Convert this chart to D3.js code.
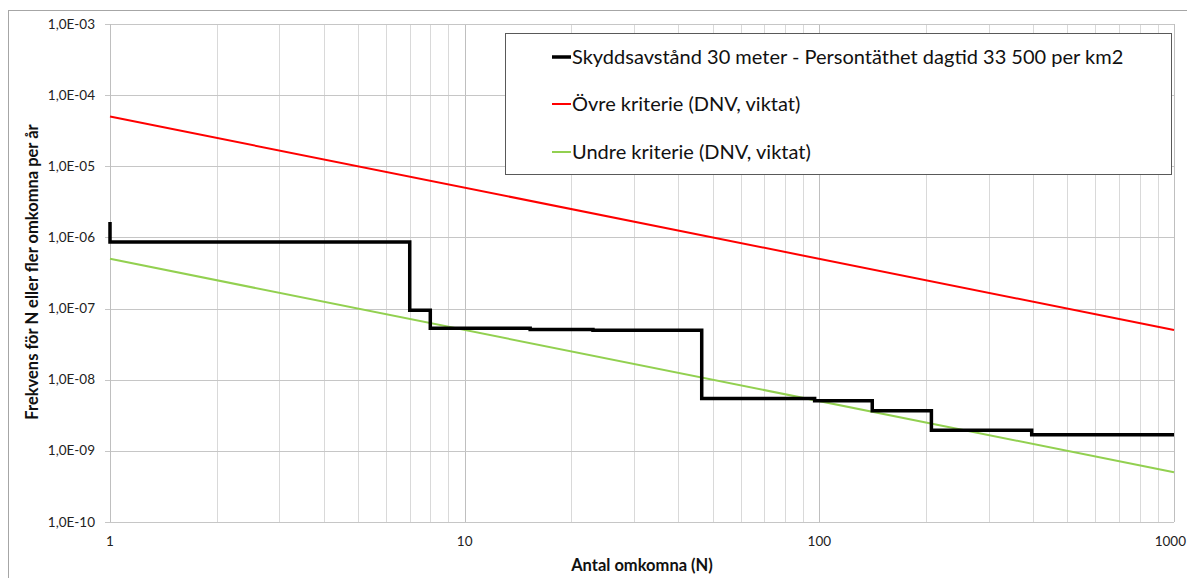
<!DOCTYPE html>
<html>
<head>
<meta charset="utf-8">
<script src="https://cdn.jsdelivr.net/npm/d3@7"></script>
<style>
  body { margin: 0; background: #fff; }
  svg { display: block; font-family: Lato, "Open Sans", sans-serif; }
</style>
</head>
<body>
<svg id="chart" width="1187" height="578"></svg>
<script>
// F/N-kurva: frekvens för N eller fler omkomna per år
const stepN = [1, 1, 7, 8, 15.3, 23, 46.6, 97, 141, 207, 397, 1000];
const stepF = [1.65e-6, 8.6e-7, 9.5e-8, 5.3e-8, 5.1e-8, 4.95e-8, 5.45e-9, 5.05e-9, 3.65e-9, 1.95e-9, 1.68e-9, 1.68e-9];

const criteriaN = [1, 1000];
const upperF = [5e-5, 5e-8];
const lowerF = [5e-7, 5e-10];

const yTickValues = [1e-3, 1e-4, 1e-5, 1e-6, 1e-7, 1e-8, 1e-9, 1e-10];
const yTickLabels = ["1,0E-03", "1,0E-04", "1,0E-05", "1,0E-06", "1,0E-07", "1,0E-08", "1,0E-09", "1,0E-10"];
const xTickValues = [1, 10, 100, 1000];
const xTickLabels = ["1", "10", "100", "1000"];

const legendLabels = [
  "Skyddsavstånd 30 meter - Persontäthet dagtid 33 500 per km2",
  "Övre kriterie (DNV, viktat)",
  "Undre kriterie (DNV, viktat)"
];
const seriesColors = ["#000000", "#ff0000", "#92d050"];

const svg = d3.select("#chart");
const W = 1187;
const plot = { left: 110, right: 1174, top: 24, bottom: 522 };

const x = d3.scaleLog().domain([1, 1000]).range([plot.left, plot.right]);
const y = d3.scaleLog().domain([1e-10, 1e-3]).range([plot.bottom, plot.top]);

// chart frame
svg.append("rect")
  .attr("x", 8.5).attr("y", 10.5)
  .attr("width", 1200).attr("height", 600)
  .attr("fill", "none").attr("stroke", "#a6a6a6").attr("stroke-width", 1);

// minor vertical gridlines
const minorX = [];
for (let d = 1; d < 1000; d *= 10) for (let k = 2; k <= 9; k++) minorX.push(d * k);
svg.append("g").selectAll("line").data(minorX).join("line")
  .attr("x1", d => Math.round(x(d)) + 0.5).attr("x2", d => Math.round(x(d)) + 0.5)
  .attr("y1", plot.top).attr("y2", plot.bottom)
  .attr("stroke", "#d9d9d9").attr("stroke-width", 1);

// major vertical gridlines
svg.append("g").selectAll("line").data(xTickValues).join("line")
  .attr("x1", d => Math.round(x(d)) + 0.5).attr("x2", d => Math.round(x(d)) + 0.5)
  .attr("y1", plot.top).attr("y2", plot.bottom)
  .attr("stroke", "#bfbfbf").attr("stroke-width", 1);

// horizontal gridlines with outward ticks
svg.append("g").selectAll("line").data(yTickValues).join("line")
  .attr("x1", plot.left - 5).attr("x2", plot.right)
  .attr("y1", d => Math.round(y(d)) + 0.5).attr("y2", d => Math.round(y(d)) + 0.5)
  .attr("stroke", "#c6c6c6").attr("stroke-width", 1.2);

// y axis line
svg.append("line")
  .attr("x1", plot.left + 0.5).attr("x2", plot.left + 0.5)
  .attr("y1", plot.top).attr("y2", plot.bottom)
  .attr("stroke", "#bfbfbf");

// tick labels
svg.append("g").selectAll("text").data(yTickValues).join("text")
  .attr("x", 95).attr("y", d => y(d) + 4.5)
  .attr("text-anchor", "end")
  .attr("font-size", 13.5).attr("fill", "#222")
  .text((d, i) => yTickLabels[i]);

// x labels centred on their gridline, kept inside the right edge
svg.append("g").selectAll("text").data(xTickValues).join("text")
  .attr("y", 546)
  .attr("text-anchor", "middle")
  .attr("font-size", 13.5).attr("fill", "#222")
  .text((d, i) => xTickLabels[i])
  .attr("x", function (d) {
    const half = this.getComputedTextLength() / 2;
    return Math.min(x(d), W - 1 - half);
  });

// axis titles
svg.append("text")
  .attr("x", 642).attr("y", 571)
  .attr("text-anchor", "middle")
  .attr("font-size", 16.5).attr("font-weight", "bold").attr("fill", "#111")
  .text("Antal omkomna (N)");

svg.append("text")
  .attr("transform", "translate(38,272) rotate(-90)")
  .attr("text-anchor", "middle")
  .attr("font-size", 16.5).attr("font-weight", "bold").attr("fill", "#111")
  .text("Frekvens för N eller fler omkomna per år");

// criteria lines
const line = d3.line().x(d => x(d[0])).y(d => y(d[1]));
svg.append("path")
  .attr("d", line(criteriaN.map((n, i) => [n, upperF[i]])))
  .attr("fill", "none").attr("stroke", seriesColors[1]).attr("stroke-width", 2);
svg.append("path")
  .attr("d", line(criteriaN.map((n, i) => [n, lowerF[i]])))
  .attr("fill", "none").attr("stroke", seriesColors[2]).attr("stroke-width", 2);

// F/N step curve
const stepLine = d3.line().x(d => x(d[0])).y(d => y(d[1])).curve(d3.curveStepAfter);
svg.append("path")
  .attr("d", stepLine(stepN.map((n, i) => [n, stepF[i]])))
  .attr("fill", "none").attr("stroke", seriesColors[0]).attr("stroke-width", 3.5)
  .attr("stroke-linejoin", "miter").attr("stroke-linecap", "butt");

// legend
const lg = svg.append("g");
lg.append("rect")
  .attr("x", 505.5).attr("y", 33.5).attr("width", 666).attr("height", 141)
  .attr("fill", "#fff").attr("stroke", "#595959").attr("stroke-width", 1);
const rowsY = [57, 104, 152];
legendLabels.forEach((label, i) => {
  lg.append("line")
    .attr("x1", 552).attr("x2", 571)
    .attr("y1", rowsY[i]).attr("y2", rowsY[i])
    .attr("stroke", seriesColors[i]).attr("stroke-width", i === 0 ? 3.5 : 2);
  lg.append("text")
    .attr("x", 572).attr("y", rowsY[i] + 6.5)
    .attr("font-size", 20).attr("fill", "#111")
    .text(label);
});
</script>
</body>
</html>
